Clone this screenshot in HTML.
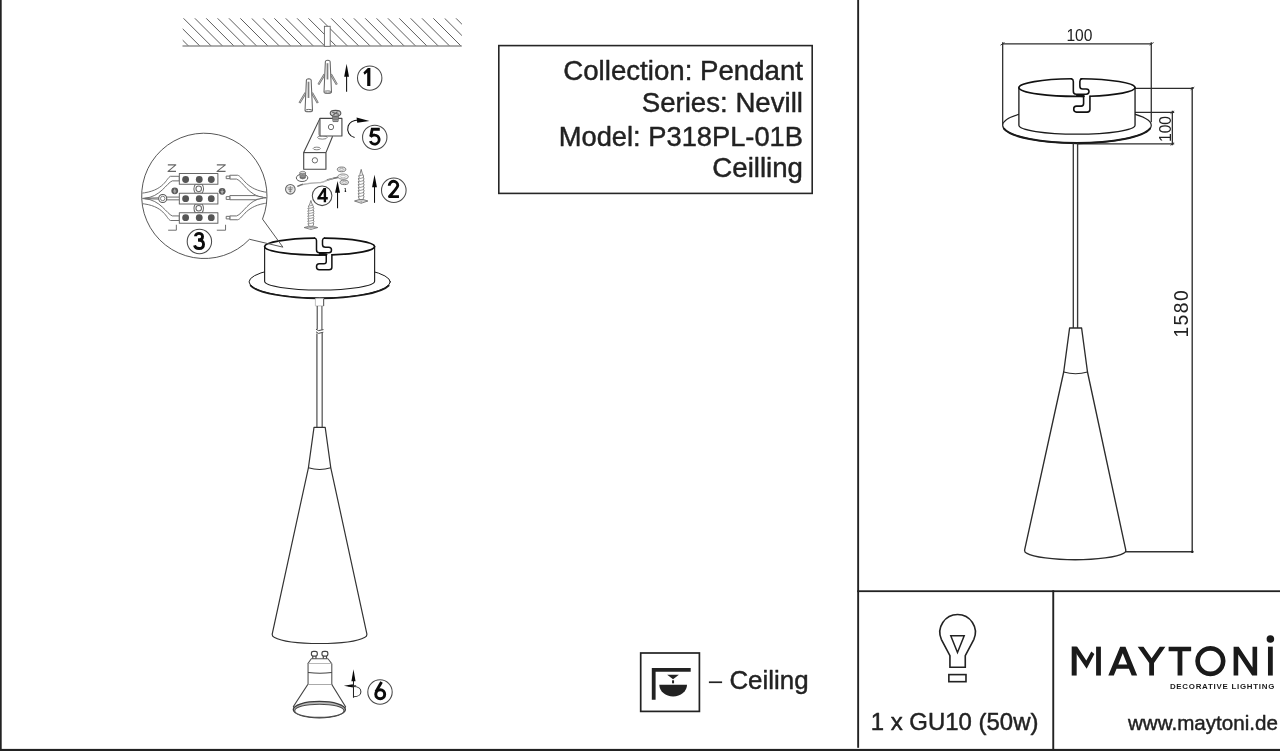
<!DOCTYPE html>
<html>
<head>
<meta charset="utf-8">
<title>Maytoni P318PL-01B</title>
<style>
html,body{margin:0;padding:0;background:#fff;overflow:hidden;}
body{width:1280px;height:751px;position:relative;font-family:"Liberation Sans",sans-serif;}
svg{position:absolute;left:0;top:0;display:block;will-change:transform;}
text{font-family:"Liberation Sans",sans-serif;fill:#1c1c1c;}
.t{fill:#222;}
.b{stroke:#222;stroke-width:0.45;stroke-linejoin:round;}
.num{font-weight:bold;fill:#0a0a0a;text-anchor:middle;}
.ln{stroke:#3a3a3a;stroke-width:1;fill:none;}
.g{stroke:#555;stroke-width:1;fill:none;}
.k{stroke:#111;fill:none;}
</style>
</head>
<body>
<svg width="1280" height="751" viewBox="0 0 1280 751">
<rect x="0" y="0" width="1280" height="751" fill="#fff"/>

<!-- FRAME -->
<g id="frame" fill="#222">
<rect x="0" y="0" width="1.7" height="751"/>
<rect x="0" y="748.9" width="1280" height="2.1"/>
<rect x="857.2" y="0" width="1.9" height="747.8"/>
<rect x="857.2" y="590.3" width="423" height="1.8"/>
<rect x="1052.3" y="590.3" width="1.9" height="160"/>
</g>

<!-- INFO BOX -->
<g id="infobox">
<rect x="498.8" y="45.6" width="313.4" height="147.8" fill="none" stroke="#262626" stroke-width="1.6"/>
<text class="t b" x="803" y="79.7" font-size="27.65" text-anchor="end">Collection: Pendant</text>
<text class="t b" x="803" y="111.6" font-size="27.65" text-anchor="end">Series: Nevill</text>
<text class="t b" x="803" y="145.5" font-size="27.65" text-anchor="end" textLength="244.2" lengthAdjust="spacingAndGlyphs">Model: P318PL-01B</text>
<text class="t b" x="803" y="177" font-size="27.65" text-anchor="end">Ceilling</text>
</g>

<!-- CEILING LEGEND -->
<g id="legend">
<rect x="640.7" y="653" width="58.7" height="58.4" fill="none" stroke="#222" stroke-width="1.7"/>
<path d="M651.8,667.9H690.7V671.8H655.6V699.7H651.8Z" fill="#222"/>
<path d="M667.2,674.8H678.9L673.05,679.3Z" fill="#222"/>
<rect x="672.05" y="680.3" width="2" height="3" fill="#222"/>
<path d="M659.3,684.8H687A13.85,11.7 0 0 1 659.3,684.8Z" fill="#222"/>
<rect x="708.9" y="681.4" width="13.2" height="1.7" fill="#222"/>
<text class="t b" x="729.4" y="688.8" font-size="25.9">Ceiling</text>
</g>

<!-- BOTTOM CELLS -->
<g id="cells">
<text class="t b" x="870.8" y="730.4" font-size="23.6" textLength="167.6" lengthAdjust="spacingAndGlyphs">1 x GU10 (50w)</text>
<text class="t b" x="1277.9" y="729.8" font-size="20.6" text-anchor="end">www.maytoni.de</text>
</g>

<!-- CEILING HATCH -->
<g id="ceiling">
<clipPath id="hc"><rect x="182.7" y="18.3" width="279.2" height="28.4"/></clipPath>
<path d="M149.25,18.1L177.15,46 M160.60,18.1L188.50,46 M171.95,18.1L199.85,46 M183.31,18.1L211.21,46 M194.66,18.1L222.56,46 M206.02,18.1L233.92,46 M217.37,18.1L245.27,46 M228.72,18.1L256.62,46 M240.08,18.1L267.98,46 M251.43,18.1L279.33,46 M262.79,18.1L290.69,46 M274.14,18.1L302.04,46 M285.49,18.1L313.39,46 M296.85,18.1L324.75,46 M308.20,18.1L336.10,46 M319.56,18.1L347.46,46 M330.91,18.1L358.81,46 M342.26,18.1L370.16,46 M353.62,18.1L381.52,46 M364.97,18.1L392.87,46 M376.33,18.1L404.23,46 M387.68,18.1L415.58,46 M399.03,18.1L426.93,46 M410.39,18.1L438.29,46 M421.74,18.1L449.64,46 M433.10,18.1L461.00,46 M444.45,18.1L472.35,46 M455.80,18.1L483.70,46 M467.16,18.1L495.06,46" stroke="#5e5e5e" stroke-width="1.0" fill="none" clip-path="url(#hc)"/>
<rect x="182.5" y="45.3" width="279.3" height="1.4" fill="#8a8a8a"/>
<rect x="324.4" y="26.3" width="5.8" height="20" fill="#fff" stroke="#666" stroke-width="0.9"/>
</g>
<!-- ANCHORS + STEP 1 -->
<g transform="translate(290,15) scale(0.13316)">
  <g transform="translate(283.5,346)">
  <path d="M-24,100 L-70,176" stroke="#6a6a6a" stroke-width="16" stroke-linecap="butt" fill="none"/>
  <path d="M-24,100 L-68,172" stroke="#fff" stroke-width="4" fill="none"/>
  <path d="M24,100 L68,176" stroke="#6a6a6a" stroke-width="16" fill="none"/>
  <path d="M24,100 L66,172" stroke="#fff" stroke-width="4" fill="none"/>
  <path d="M-18,6 Q-18,-2 -10,-4 Q0,-7 10,-4 Q18,-2 18,6 L28,232 A28,10 0 0 1 -28,232 Z" fill="#fff" stroke="#666" stroke-width="8"/>
  <ellipse cx="0" cy="232" rx="25" ry="8" fill="#fff" stroke="#666" stroke-width="7"/>
  <path d="M-2,16 L-2,138" stroke="#808080" stroke-width="13" fill="none"/>
</g>
  <g transform="translate(141,485)">
  <path d="M-24,100 L-70,176" stroke="#6a6a6a" stroke-width="16" stroke-linecap="butt" fill="none"/>
  <path d="M-24,100 L-68,172" stroke="#fff" stroke-width="4" fill="none"/>
  <path d="M24,100 L68,176" stroke="#6a6a6a" stroke-width="16" fill="none"/>
  <path d="M24,100 L66,172" stroke="#fff" stroke-width="4" fill="none"/>
  <path d="M-18,6 Q-18,-2 -10,-4 Q0,-7 10,-4 Q18,-2 18,6 L28,232 A28,10 0 0 1 -28,232 Z" fill="#fff" stroke="#666" stroke-width="8"/>
  <ellipse cx="0" cy="232" rx="25" ry="8" fill="#fff" stroke="#666" stroke-width="7"/>
  <path d="M-2,16 L-2,138" stroke="#808080" stroke-width="13" fill="none"/>
</g>
  <path d="M425,440 L425,577" stroke="#111" stroke-width="8" fill="none"/>
  <path d="M425,366 L407,464 L443,464 Z" fill="#0a0a0a"/>
</g>
<circle cx="369.7" cy="78.1" r="12.2" fill="none" stroke="#4a4a4a" stroke-width="1.05"/>
<!-- BRACKET + STEP 5 -->
<g transform="translate(280,100) scale(0.13316)" stroke-linejoin="round">
  <!-- back/top plate thickness line -->
  <path d="M300,138 L178,395 L178,520 L345,520 L345,395 L395,272" fill="#fff" stroke="#484848" stroke-width="8.5"/>
  <path d="M178,395 L345,395" stroke="#484848" stroke-width="8.5" fill="none"/>
  <!-- slots on middle strip -->
  <ellipse cx="318" cy="281" rx="36" ry="13" fill="#fff" stroke="#666" stroke-width="6"/>
  <ellipse cx="276" cy="364" rx="27" ry="10" fill="#fff" stroke="#666" stroke-width="6"/>
  <!-- top plate -->
  <rect x="300" y="138" width="165" height="132" fill="#fff" stroke="#484848" stroke-width="8.5"/>
  <path d="M291,160 L291,262" stroke="#777" stroke-width="5" fill="none"/>
  <circle cx="383" cy="203" r="20" fill="#fff" stroke="#555" stroke-width="6.5"/>
  <!-- bottom plate hole -->
  <circle cx="262" cy="453" r="20" fill="#fff" stroke="#555" stroke-width="6.5"/>
  <!-- screw on top -->
  <path d="M392,110 L398,162 L436,162 L442,110 Z" fill="#6a6a6a" stroke="#555" stroke-width="5"/>
  <path d="M394,128 H440 M396,142 H438 M397,154 H437" stroke="#ccc" stroke-width="4" fill="none"/>
  <ellipse cx="417" cy="100" rx="40" ry="22" fill="#ccc" stroke="#555" stroke-width="8"/>
  <path d="M392,92 L442,108 M400,112 L432,88" stroke="#666" stroke-width="9" fill="none"/>
  <!-- rotation arrow -->
  <path d="M560,282 C520,270 500,235 512,195 C522,168 548,152 590,150" fill="none" stroke="#111" stroke-width="8"/>
  <path d="M575,132 L672,158 L580,170 Z" fill="#0a0a0a" stroke="none"/>
</g>
<circle cx="374.75" cy="137.35" r="12.2" fill="none" stroke="#4a4a4a" stroke-width="1.05"/>
<!-- SCREWS, GROUND WIRE, STEPS 2 & 4 -->
<g transform="translate(280,160) scale(0.10655)">
  <!-- ground terminal -->
  <circle cx="97" cy="275" r="45" fill="#e8e8e8" stroke="#666" stroke-width="10"/>
  <path d="M97,245 V305 M70,262 H124 M78,278 H116 M86,294 H108" stroke="#777" stroke-width="8" fill="none"/>
  <!-- wire -->
  <path d="M165,247 C230,215 300,215 380,212 C430,208 450,178 500,172 L560,160" fill="none" stroke="#9a9a9a" stroke-width="13" stroke-linecap="round"/>
  <path d="M440,188 L545,162" stroke="#777" stroke-width="16" fill="none"/>
  <path d="M165,247 C230,215 300,215 380,212 C430,208 450,178 500,172" fill="none" stroke="#e8e8e8" stroke-width="4"/>
  <path d="M165,247 L215,226" stroke="#666" stroke-width="10" fill="none"/>
  <!-- washer + small screw -->
  <ellipse cx="207" cy="168" rx="54" ry="34" fill="#fff" stroke="#555" stroke-width="9"/>
  <path d="M186,118 Q214,100 240,118 L238,170 Q212,185 188,170 Z" fill="#777" stroke="#555" stroke-width="6"/>
  <path d="M188,134 Q213,146 238,134 M188,148 Q213,160 238,148" stroke="#bbb" stroke-width="5" fill="none"/>
  <ellipse cx="213" cy="117" rx="26" ry="11" fill="#ddd" stroke="#666" stroke-width="5"/>
  <!-- washers stack -->
  <ellipse cx="578" cy="88" rx="40" ry="22" fill="#ddd" stroke="#777" stroke-width="9"/>
  <ellipse cx="578" cy="88" rx="18" ry="8" fill="#fff" stroke="#888" stroke-width="5"/>
  <ellipse cx="592" cy="156" rx="50" ry="25" fill="#eee" stroke="#888" stroke-width="9"/>
  <ellipse cx="592" cy="156" rx="26" ry="10" fill="#fff" stroke="#999" stroke-width="5"/>
  <ellipse cx="603" cy="210" rx="40" ry="21" fill="#ddd" stroke="#777" stroke-width="9"/>
  <ellipse cx="603" cy="210" rx="18" ry="8" fill="#fff" stroke="#888" stroke-width="5"/>
  <!-- tiny screw -->
  <path d="M603,262 L618,262 L615,270 L622,300 L607,300 L610,272 Z" fill="#222"/>
  <!-- arrow 4 -->
  <path d="M540,300 L540,452" stroke="#111" stroke-width="10" fill="none"/>
  <path d="M540,196 L517,308 L563,308 Z" fill="#0a0a0a"/>
  <!-- screw of step 2 -->
  <g transform="translate(762,88)">
  <path d="M0,0 L-13,50 L-24,62 L-18,74 L-27,90 L-19,102 L-28,118 L-20,130 L-28,146 L-20,158 L-28,174 L-20,186 L-28,202 L-20,214 L-28,230 L-20,242 L-27,258 L-20,270 L-20,284 L20,284 L20,270 L27,258 L20,242 L28,230 L20,214 L28,202 L20,186 L28,174 L20,158 L28,146 L20,130 L28,118 L19,102 L27,90 L18,74 L24,62 L13,50 Z" fill="#fff" stroke="#6a6a6a" stroke-width="8" stroke-linejoin="round"/>
  <path d="M-22,62 L22,50 M-26,90 L26,76 M-27,118 L27,104 M-27,146 L27,132 M-27,174 L27,160 M-27,202 L27,188 M-27,230 L27,216 M-26,258 L26,244" stroke="#7a7a7a" stroke-width="7" fill="none"/>
  <path d="M-62,297 L-22,284 L22,284 L62,297 L0,318 Z" fill="#fff" stroke="#6a6a6a" stroke-width="8" stroke-linejoin="round"/>
  <path d="M-62,297 L62,297 M0,297 L0,318" stroke="#7a7a7a" stroke-width="6" fill="none"/>
</g>
  <!-- arrow 2 -->
  <path d="M887,250 L887,402" stroke="#111" stroke-width="10" fill="none"/>
  <path d="M887,138 L864,256 L910,256 Z" fill="#0a0a0a"/>
  <!-- lower screw -->
  <g transform="translate(290,380) scale(1.03,0.855)"><g transform="translate(0,0)">
  <path d="M0,0 L-13,50 L-24,62 L-18,74 L-27,90 L-19,102 L-28,118 L-20,130 L-28,146 L-20,158 L-28,174 L-20,186 L-28,202 L-20,214 L-28,230 L-20,242 L-27,258 L-20,270 L-20,284 L20,284 L20,270 L27,258 L20,242 L28,230 L20,214 L28,202 L20,186 L28,174 L20,158 L28,146 L20,130 L28,118 L19,102 L27,90 L18,74 L24,62 L13,50 Z" fill="#fff" stroke="#6a6a6a" stroke-width="8" stroke-linejoin="round"/>
  <path d="M-22,62 L22,50 M-26,90 L26,76 M-27,118 L27,104 M-27,146 L27,132 M-27,174 L27,160 M-27,202 L27,188 M-27,230 L27,216 M-26,258 L26,244" stroke="#7a7a7a" stroke-width="7" fill="none"/>
  <path d="M-62,297 L-22,284 L22,284 L62,297 L0,318 Z" fill="#fff" stroke="#6a6a6a" stroke-width="8" stroke-linejoin="round"/>
  <path d="M-62,297 L62,297 M0,297 L0,318" stroke="#7a7a7a" stroke-width="6" fill="none"/>
</g></g>
</g>
<circle cx="322.1" cy="195.8" r="9.8" fill="none" stroke="#4a4a4a" stroke-width="1.05"/>
<circle cx="393.8" cy="190.25" r="12.3" fill="none" stroke="#4a4a4a" stroke-width="1.05"/>
<!-- CANOPY (left assembly) -->
<g transform="translate(240,225) scale(0.125)" fill="none" stroke-linejoin="round" stroke-linecap="round">
  <!-- stem under flange -->
  
  <!-- flange -->
  <ellipse cx="637.5" cy="455" rx="565" ry="129" fill="#fff" stroke="#1a1a1a" stroke-width="8"/>
  <path d="M85,485 A565,129 0 0 0 1190,485" stroke="#1a1a1a" stroke-width="13"/>
  <!-- cylinder body -->
  <path d="M197,170 L197,450 A440,70 0 0 0 1077,450 L1077,170 Z" fill="#fff" stroke="#1a1a1a" stroke-width="9"/>
  <!-- top ellipse (with gaps for slot) -->
  <ellipse cx="637" cy="172" rx="440" ry="68" fill="#fff" stroke="none"/>
  <path d="M597,105 A440,68 0 0 0 197,172 A440,68 0 0 0 690,239.5" stroke="#111" stroke-width="14"/>
  <path d="M675,105 A440,68 0 0 1 1077,172 A440,68 0 0 1 735,238.5" stroke="#111" stroke-width="14"/>
  <!-- slot upper part (seen through opening) -->
  <path d="M597,105 Q612,108 612,124 L612,198 Q612,222 634,222 L710,222 Q732,222 732,200 Q732,178 710,178 L684,178 Q660,178 660,156 L660,124 Q660,108 675,105" stroke="#111" stroke-width="12" fill="#fff"/>
  <!-- slot lower part on front wall -->
  <path d="M690,239 L690,292 Q690,310 672,310 L634,310 Q612,310 612,334 Q612,358 634,358 L713,358 Q735,358 735,338 L735,238" stroke="#111" stroke-width="12" fill="#fff"/>
  <path d="M640,232 L690,236" stroke="#111" stroke-width="20"/>
</g>
<!-- CALLOUT CIRCLE + TERMINAL BLOCK (STEP 3) -->
<clipPath id="bc"><circle cx="622.4" cy="384" r="582"/></clipPath>
<g transform="translate(138,155) scale(0.10652)" stroke-linejoin="round" fill="none">
  <g clip-path="url(#bc)">
  <!-- left wires: upper / lower (white bodies with grey outlines) -->
  <g fill="#fff" stroke="#686868" stroke-width="9">
    <path d="M388,200 L305,200 C265,215 250,340 20,360 L20,408 L60,406 C210,396 270,262 322,243 L388,243 Z"/>
    <path d="M388,615 L305,615 C265,600 250,472 20,455 L20,408 L60,410 C210,420 270,553 322,572 L388,572 Z"/>
    <path d="M388,395 L270,395 M388,421 L270,421 M195,402 L60,406 M195,414 L60,410" fill="none"/>
  </g>
  <!-- right wires -->
  <g fill="#fff" stroke="#686868" stroke-width="9">
    <path d="M862,190 L935,190 C985,200 1010,330 1225,352 L1225,400 L1175,398 C1040,385 985,245 925,226 L862,226 Z"/>
    <path d="M862,608 L935,608 C985,598 1010,470 1225,450 L1225,402 L1175,404 C1040,415 985,555 925,572 L862,572 Z"/>
    <path d="M862,381 L1100,381 L1175,397 L1175,404 L1100,420 L862,420 Z"/>
    <rect x="828" y="198" width="34" height="24"/>
    <rect x="828" y="391" width="34" height="26"/>
    <rect x="828" y="576" width="34" height="24"/>
  </g>
  <!-- earth ring -->
  <circle cx="232" cy="408" r="38" fill="#fff" stroke="#5a5a5a" stroke-width="10"/>
  <circle cx="232" cy="408" r="21" fill="#fff" stroke="#6a6a6a" stroke-width="8"/>
  <!-- terminal block -->
  <g fill="#fff" stroke="#666" stroke-width="9.5">
    <path d="M538,275 Q512,318 538,360 L602,360 Q628,318 602,275 Z"/>
    <path d="M538,460 Q512,500 538,543 L602,543 Q628,500 602,460 Z"/>
    <rect x="388" y="173" width="362" height="102"/>
    <rect x="388" y="360" width="362" height="100"/>
    <rect x="388" y="543" width="362" height="97"/>
    <circle cx="570" cy="318" r="26"/>
    <circle cx="570" cy="500" r="26"/>
  </g>
  <g fill="#555" stroke="none">
    <circle cx="447" cy="230" r="32"/><circle cx="575" cy="230" r="32"/><circle cx="688" cy="230" r="32"/>
    <circle cx="447" cy="410" r="32"/><circle cx="575" cy="410" r="32"/><circle cx="688" cy="410" r="32"/>
    <circle cx="447" cy="588" r="32"/><circle cx="575" cy="588" r="32"/><circle cx="688" cy="588" r="32"/>
    <circle cx="345" cy="336" r="32" fill="#5a5a5a"/>
    <circle cx="790" cy="341" r="32" fill="#5a5a5a"/>
  </g>
  <path d="M345,316 V338 M330,338 H360 M335,347 H355 M340,356 H350 M790,321 V343 M775,343 H805 M780,352 H800 M785,361 H795" stroke="#ddd" stroke-width="6"/>
  <!-- N marks (rotated) -->
  <path d="M280,93 H355 L282,154 H357 M740,93 H820 L742,154 H822" stroke="#666" stroke-width="10"/>
  <!-- corner marks -->
  <path d="M283,706 H360 V655 M740,706 H822 V655" stroke="#686868" stroke-width="9"/>
  </g>
</g>
<g transform="translate(130,125) scale(0.18648)" stroke-linejoin="round">
  <path d="M640.8,612.8 A336,336 0 1 1 710.6,504.5 L820,655 Z" fill="none" stroke="#4a4a4a" stroke-width="5"/>
</g>
<circle cx="199.4" cy="241.45" r="12.2" fill="#fff" stroke="#4a4a4a" stroke-width="1.05"/>
<!-- ROD + CONE (left assembly) -->
<g fill="none" stroke-linejoin="round">
  <!-- stem under flange -->
  <rect x="315.4" y="298.3" width="8.6" height="7.6" fill="#fff" stroke="none"/>
  <path d="M315.4,298.5 V305.9 H324" stroke="#bbb" stroke-width="0.9"/>
  <path d="M323.6,298.5 V305.9" stroke="#666" stroke-width="1.2"/>
  <!-- rod upper -->
  <path d="M317.2,306 V329.2" stroke="#333" stroke-width="1"/>
  <path d="M321.9,306 V329.8" stroke="#777" stroke-width="1.4"/>
  <!-- break -->
  <path d="M316,329.2 L318.5,330.6 L323.5,329.6 M316,331.8 L318.5,333.4 L323.3,332.2" stroke="#333" stroke-width="0.9"/>
  <!-- rod lower -->
  <path d="M316.9,333.6 V427" stroke="#666" stroke-width="1.4"/>
  <path d="M322.2,333 V427" stroke="#666" stroke-width="1.4"/>
  <!-- cone -->
  <path d="M314,427.3 L325.2,427.3 L330.8,467.8 L366.8,633.6 Q367.3,636.4 365,637.2 A48.5,9.7 0 0 1 274.1,637.2 Q271.8,636.4 272.3,633.6 L308.4,467.8 Z" fill="#fff" stroke="#333" stroke-width="1.2"/>
  <path d="M308.4,467.8 Q319.6,471.2 330.8,467.8" stroke="#2e2e2e" stroke-width="1.1"/>
</g>
<!-- GU10 BULB + STEP 6 -->
<g transform="translate(260,630) scale(0.14652)" fill="none" stroke-linejoin="round">
  <!-- pins -->
  <g fill="#fff" stroke="#444" stroke-width="8">
    <rect x="360" y="170" width="22" height="30"/>
    <rect x="432" y="170" width="22" height="30"/>
    <rect x="351" y="146" width="40" height="32" rx="14" ry="13"/>
    <rect x="423" y="146" width="40" height="32" rx="14" ry="13"/>
  </g>
  <!-- base shoulders -->
  <path d="M350,196 L464,196 L488,228 L328,228 Z" fill="#fff" stroke="#555" stroke-width="7"/>
  <!-- body -->
  <path d="M328,228 L328,372 L490,372 L490,228" fill="#fff" stroke="#555" stroke-width="7.5"/>
  <path d="M328,290 Q409,300 490,290" stroke="#444" stroke-width="8"/>
  <path d="M326,372 Q409,384 490,372" stroke="#555" stroke-width="7"/>
  <!-- reflector -->
  <path d="M326,372 L228,522 A180,58 0 0 0 584,524 L490,372" fill="#fff" stroke="#444" stroke-width="8"/>
  <!-- rim -->
  <ellipse cx="405" cy="543" rx="178" ry="56" fill="#b8b8b8" stroke="#3c3c3c" stroke-width="9"/>
  <ellipse cx="405" cy="551" rx="168" ry="45" fill="#fff" stroke="#4a4a4a" stroke-width="7"/>
  <!-- arrow up -->
  <path d="M638,340 L638,462" stroke="#222" stroke-width="7"/>
  <path d="M638,268 L624,350 L652,350 Z" fill="#0a0a0a"/>
  <!-- arrow left -->
  <path d="M600,381 L656,381" stroke="#222" stroke-width="7"/>
  <path d="M572,381 L634,370 L634,392 Z" fill="#0a0a0a"/>
  <!-- half circle -->
  <path d="M640,386 C705,386 705,456 640,456" stroke="#333" stroke-width="7"/>
</g>
<circle cx="380" cy="692" r="12.2" fill="none" stroke="#4a4a4a" stroke-width="1.05"/>
<!-- RIGHT PANEL: DIMENSION DRAWING -->
<g transform="translate(990,20) scale(0.18644)" fill="none" stroke-linejoin="round" stroke-linecap="round">
  <!-- extension + dim lines -->
  <g stroke="#2c2c2c" stroke-width="6.8" stroke-linecap="butt">
    <path d="M65,128 H868"/>
    <path d="M68,120 V565"/>
    <path d="M865,120 V548"/>
    <path d="M778,367 H1092"/>
    <path d="M778,495 H988"/>
    <path d="M470,665 H988"/>
    <path d="M978,487 V672"/>
  </g>
  <path d="M58,134 L76,122 M858,134 L876,122 M970,501 L986,489 M970,671 L986,659 M1078,373 L1094,361" stroke="#333" stroke-width="5"/>
  <!-- flange -->
  <ellipse cx="466.5" cy="565" rx="398.5" ry="95" fill="#fff" stroke="#222" stroke-width="6.5"/>
  <path d="M75,583 A398.5,95 0 0 0 858,583" stroke="#1a1a1a" stroke-width="11"/>
  <!-- cylinder body -->
  <path d="M155,362 L155,565 A311.5,47 0 0 0 778,565 L778,362 Z" fill="#fff" stroke="#1a1a1a" stroke-width="7"/>
  <!-- top ellipse -->
  <ellipse cx="466.5" cy="362" rx="311.5" ry="48" fill="#fff" stroke="none"/>
  <path d="M437,315 A311.5,48 0 0 0 155,362 A311.5,48 0 0 0 502,409.6" stroke="#111" stroke-width="9"/>
  <path d="M487,315 A311.5,48 0 0 1 778,362 A311.5,48 0 0 1 536,408.8" stroke="#111" stroke-width="9"/>
  <!-- slot -->
  <path d="M437,315 Q447,318 447,330 L447,382 Q447,398 462,398 L516,398 Q531,398 531,384 Q531,370 516,370 L497,370 Q482,370 482,355 L482,330 Q482,318 492,315" stroke="#111" stroke-width="8.5" fill="#fff"/>
  <path d="M502,410 L502,448 Q502,462 489,462 L464,462 Q449,462 449,478 Q449,494 464,494 L521,494 Q536,494 536,480 L536,409" stroke="#111" stroke-width="8.5" fill="#fff"/>
  <path d="M468,405 L502,408" stroke="#111" stroke-width="13"/>
</g>
<text class="t" x="1079.4" y="40.8" font-size="15.6" text-anchor="middle" fill="#2a2a2a">100</text>
<text class="t" transform="translate(1170.6,129) rotate(-90)" font-size="15.6" text-anchor="middle" fill="#2a2a2a">100</text>
<!-- rod + cone + long dim -->
<g fill="none" stroke-linejoin="round">
  <path d="M1073.3,143.5 V328 M1077.6,143.5 V328" stroke="#3a3a3a" stroke-width="1.35"/>
  <path d="M1069.6,328 L1081.6,328 L1087.5,372 L1125.7,549.6 Q1126.2,552.3 1123.9,553.1 A51.5,9.9 0 0 1 1026.5,553.1 Q1024.2,552.3 1024.7,549.6 L1063.7,372 Z" fill="#fff" stroke="#2c2c2c" stroke-width="1.35"/>
  <path d="M1063.7,372 Q1075.6,375.6 1087.5,372" stroke="#2a2a2a" stroke-width="1.1"/>
  <path d="M1126,551.8 H1193.3" stroke="#333" stroke-width="1.4"/>
  <path d="M1192.2,87 V552.4" stroke="#2c2c2c" stroke-width="1.35"/>
  <circle cx="1192.3" cy="551.8" r="1.2" fill="#222" stroke="none"/>
</g>
<text class="t" transform="translate(1187.8,337.6) rotate(-90)" font-size="19.3" letter-spacing="1.45" fill="#222">1580</text>
<!-- BULB ICON -->
<g transform="translate(920,600) scale(0.11976)" fill="none" stroke="#222" stroke-width="13.5" stroke-linejoin="miter">
  <path d="M250,562 L250,465 L178,328 A148,148 0 1 1 450,328 L378,465 L378,562 Z"/>
  <path d="M257,298 L369,298 L313,438 Z" stroke-width="12.5"/>
  <rect x="241" y="623" width="143" height="59"/>
</g>
<!-- CIRCLED STEP DIGITS (drawn as paths) -->
<g fill="#0a0a0a" stroke="none">
  <!-- 1 -->
  <g transform="translate(355,63) scale(0.03995)">
    <path d="M385,125 L385,575 L305,575 L305,240 L242,292 L210,236 L322,125 Z"/>
  </g>
  <!-- 4 -->
  <g transform="translate(307,181) scale(0.03995)">
    <path fill-rule="evenodd" d="M478,175 L478,403 L520,403 L520,460 L478,460 L478,530 L418,530 L418,460 L258,460 L258,418 L415,175 Z M418,275 L335,403 L418,403 Z"/>
  </g>
</g>
<g fill="none" stroke="#0a0a0a" stroke-width="72" stroke-linejoin="miter" stroke-linecap="butt">
  <!-- 2 -->
  <g transform="translate(379,175) scale(0.03995)">
    <path d="M256,268 A107,107 0 0 1 470,262 C470,300 445,335 262,540 L500,540" stroke-linejoin="round"/>
  </g>
  <!-- 3 -->
  <g transform="translate(184,226) scale(0.03995)">
    <path d="M287,258 C287,160 464,155 464,262 C464,325 420,352 352,352"/>
    <path d="M352,352 C440,345 489,395 489,455 C489,535 430,564 377,564 C318,564 275,535 263,486"/>
  </g>
  <!-- 5 -->
  <g transform="translate(360,122) scale(0.03995)">
    <path d="M495,183 L306,183 L268,362"/>
    <path d="M262,372 Q310,322 368,326 A114,114 0 1 1 258,478" stroke-width="70"/>
  </g>
  <!-- 6 -->
  <g transform="translate(365,676) scale(0.03995)">
    <circle cx="381" cy="455" r="112" stroke-width="74"/>
    <path d="M414,150 L274,392" stroke-width="72"/>
  </g>
</g>
<!--LOGO-->
<g id="logo" transform="translate(1060,630) scale(0.17188)" fill="#1a1a1a" stroke="none">
<!-- M -->
<rect x="68" y="97" width="29" height="168"/>
<rect x="210" y="97" width="28" height="168"/>
<path d="M68,97 L100,97 L153,178 L182,125 L200,140 L155,225 Z"/>
<!-- A -->
<path d="M350,97 L381,97 L449,265 L417,265 L401,226 L329,226 L313,265 L281,265 Z M365,135 L339,201 L391,201 Z"/>
<!-- Y -->
<path d="M452,97 L486,97 L533,165 L580,97 L613,97 L547,192 L547,265 L519,265 L519,192 Z"/>
<!-- T -->
<path d="M632,97 H763 V123 H712 V265 H684 V123 H632 Z"/>
<!-- O -->
<path fill-rule="evenodd" d="M875,93 A88,88 0 1 0 875.01,93 Z M875,120 A61,61 0 1 1 874.99,120 Z"/>
<!-- N -->
<path d="M1010,97 H1040 L1120,218 V97 H1147 V265 H1118 L1037,143 V265 H1010 Z"/>
<!-- I -->
<rect x="1210" y="97" width="28" height="168"/>
<circle cx="1224" cy="52" r="22"/>
</g>
<text x="1169.9" y="689.2" font-size="7.9" font-weight="bold" textLength="104.4" lengthAdjust="spacing" fill="#333">DECORATIVE LIGHTING</text>
</svg>
</body>
</html>
